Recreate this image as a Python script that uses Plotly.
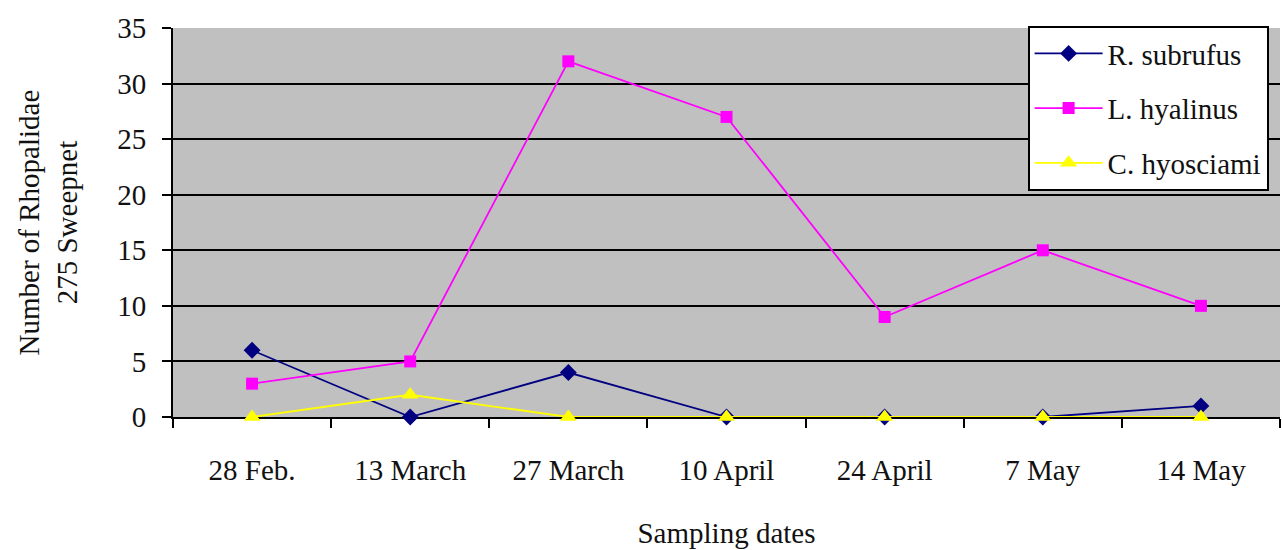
import plotly.graph_objects as go

# Sampling dates (x categories)
dates = ["28 Feb.", "13 March", "27 March", "10 April", "24 April", "7 May", "14 May"]

# Counts of Rhopalidae per 275 sweepnet strokes
r_subrufus = [6, 0, 4, 0, 0, 0, 1]
l_hyalinus = [3, 5, 32, 27, 9, 15, 10]
c_hyosciami = [0, 2, 0, 0, 0, 0, 0]

FONT = "Liberation Serif, Times New Roman, serif"
FSIZE = 29
TXT = "#111111"

series = [
    ("R. subrufus", r_subrufus, "#000080", "diamond", 13),
    ("L. hyalinus", l_hyalinus, "#FF00FF", "square", 12),
    ("C. hyosciami", c_hyosciami, "#FFFF00", "triangle-up", 15),
]

fig = go.Figure()
for name, vals, color, symbol, size in series:
    fig.add_trace(go.Scatter(
        x=dates, y=vals, name=name, mode="lines+markers",
        legendgroup=name, cliponaxis=False,
        line=dict(color=color, width=1.8),
        marker=dict(symbol=symbol, size=size, color=color, line=dict(width=0)),
    ))

fig.update_layout(
    width=1282, height=550,
    margin=dict(l=173, r=2, t=28, b=133, autoexpand=False),
    paper_bgcolor="white",
    plot_bgcolor="#C0C0C0",
    font=dict(family=FONT, size=FSIZE, color=TXT),
    showlegend=True,
    legend=dict(
        x=0.772, y=1.005, xanchor="left", yanchor="top",
        bgcolor="white", bordercolor="black", borderwidth=2,
        font=dict(family=FONT, size=FSIZE, color=TXT),
        traceorder="grouped", tracegroupgap=14,
        itemwidth=68,
    ),
    xaxis=dict(
        type="category",
        showgrid=False,
        showline=True, linecolor="black", linewidth=2,
        ticks="outside", ticklen=9, tickwidth=2, tickcolor="black",
        tickson="boundaries",
        ticklabelstandoff=26,
        title=dict(text="Sampling dates", standoff=38,
                   font=dict(family=FONT, size=FSIZE, color=TXT)),
        automargin=False,
        range=[-0.5, 6.5],
        layer="below traces",
    ),
    yaxis=dict(
        range=[0, 35], dtick=5,
        showgrid=True, gridcolor="black", gridwidth=2,
        zeroline=False,
        showline=True, linecolor="black", linewidth=2,
        ticks="outside", ticklen=9, tickwidth=2, tickcolor="black",
        ticklabelstandoff=10,
        automargin=False,
        layer="below traces",
    ),
    annotations=[dict(
        text="Number of Rhopalidae<br>275 Sweepnet",
        xref="paper", yref="paper",
        x=-0.113, y=0.5, xanchor="center", yanchor="middle",
        textangle=-90, showarrow=False,
        font=dict(family=FONT, size=FSIZE, color=TXT),
    )],
)

fig.write_html("out.html")
